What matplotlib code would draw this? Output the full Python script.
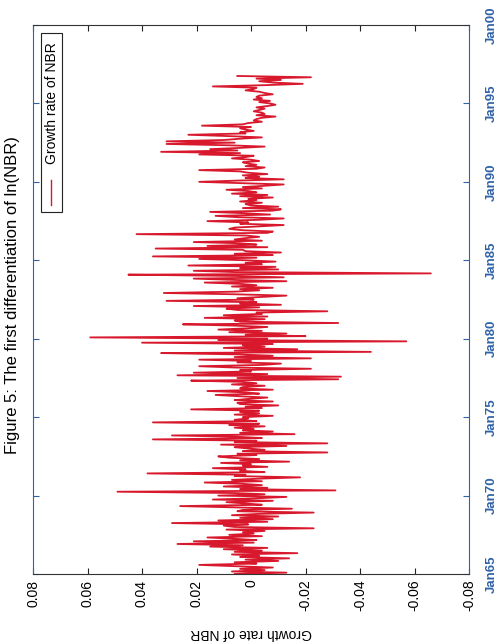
import matplotlib
matplotlib.use("Agg")
import matplotlib.pyplot as plt
import matplotlib.dates as mdates
from matplotlib.patches import Rectangle
from matplotlib.lines import Line2D
import numpy as np
import pandas as pd

plt.rcParams['font.family'] = ['Liberation Sans', 'DejaVu Sans']

# monthly growth rate of NBR, Jan 1965 .. Oct 1996
g1965 = [0.006, -0.013, 0.007, -0.005, 0.004, -0.008, 0.005, 0.019, -0.002, 0.006, -0.010, 0.002]
g1966 = [-0.014, 0.004, -0.003, 0.007, -0.017, 0.006, -0.004, 0.010, -0.006, 0.015, 0.003, 0.027]
g1967 = [-0.001, 0.021, -0.002, 0.006, 0.016, -0.004, 0.008, -0.001, 0.003, -0.005, 0.009, -0.023]
g1968 = [0.006, 0.010, 0.001, 0.029, -0.006, 0.012, -0.008, 0.004, -0.010, 0.007, -0.003, -0.023]
g1969 = [0.005, 0.003, -0.015, 0.005, 0.026, -0.004, 0.002, 0.009, -0.008, 0.014, -0.003, -0.013]
g1970 = [0.012, -0.005, 0.006, 0.049, -0.031, 0.004, -0.006, 0.010, -0.004, 0.003, 0.017, -0.004]
g1971 = [0.007, -0.004, -0.018, 0.006, 0.002, 0.038, -0.005, 0.004, 0.002, 0.014, -0.006, 0.003]
g1972 = [0.000, 0.011, -0.014, 0.004, -0.003, 0.008, 0.012, -0.002, 0.005, -0.028, 0.003, -0.005]
g1973 = [0.001, 0.006, -0.013, 0.011, -0.028, 0.006, -0.002, 0.036, -0.004, 0.005, 0.029, -0.016]
g1974 = [0.004, -0.008, 0.003, -0.001, 0.006, -0.005, 0.008, -0.003, 0.036, -0.002, 0.006, 0.001]
g1975 = [0.003, -0.008, 0.006, -0.003, 0.004, -0.003, 0.022, -0.004, 0.002, -0.010, 0.004, 0.005]
g1976 = [-0.008, 0.006, 0.001, -0.006, 0.004, 0.013, -0.003, 0.002, 0.016, -0.008, 0.004, 0.003]
g1977 = [-0.005, 0.007, -0.002, 0.003, 0.022, -0.032, 0.005, -0.033, 0.027, -0.006, 0.021, 0.000]
g1978 = [0.004, -0.022, 0.006, 0.019, -0.004, -0.011, 0.005, 0.000, 0.019, -0.022, 0.006, -0.008]
g1979 = [0.005, 0.033, -0.044, 0.006, -0.017, 0.010, -0.005, 0.003, -0.008, 0.040, -0.057, 0.012]
g1980 = [-0.006, 0.059, -0.020, 0.002, -0.013, 0.008, -0.004, 0.012, 0.001, -0.006, 0.006, 0.025]
g1981 = [-0.032, 0.004, 0.006, -0.005, 0.017, -0.006, 0.010, -0.004, -0.002, -0.028, 0.005, 0.009]
g1982 = [-0.003, 0.021, -0.011, 0.004, -0.002, 0.031, -0.001, 0.005, -0.004, -0.013, 0.006, 0.032]
g1983 = [0.006, -0.003, 0.004, -0.008, 0.007, -0.002, 0.004, 0.017, -0.013, 0.006, 0.021, -0.012]
g1984 = [0.005, 0.045, -0.066, 0.006, 0.021, -0.010, 0.004, -0.009, 0.023, -0.004, 0.002, -0.009]
g1985 = [0.002, 0.019, -0.002, 0.036, -0.008, 0.006, -0.011, 0.002, 0.003, 0.035, -0.006, 0.016]
g1986 = [-0.002, 0.004, 0.021, -0.004, 0.006, 0.002, -0.003, 0.002, 0.042, -0.006, -0.008, 0.003]
g1987 = [0.008, 0.006, -0.003, -0.012, 0.004, 0.001, 0.016, -0.003, -0.012, 0.005, 0.013, -0.007]
g1988 = [0.002, 0.015, -0.008, -0.011, 0.003, -0.010, 0.000, 0.002, -0.004, 0.004, -0.002, 0.001]
g1989 = [-0.008, 0.004, -0.006, 0.007, -0.002, 0.001, 0.009, -0.004, 0.003, -0.005, -0.012, 0.003]
g1990 = [0.019, 0.004, -0.012, 0.002, -0.003, 0.003, -0.006, 0.001, 0.004, 0.019, -0.002, -0.005]
g1991 = [0.002, -0.002, 0.001, 0.003, -0.003, 0.000, 0.007, 0.002, -0.001, 0.019, 0.004, 0.033]
g1992 = [0.005, 0.015, 0.004, -0.005, 0.008, 0.031, 0.006, 0.031, 0.010, 0.004, -0.004, 0.008]
g1993 = [0.023, 0.002, 0.004, -0.001, 0.002, 0.004, 0.000, 0.018, 0.003, 0.001, -0.004, -0.001]
g1994 = [-0.002, -0.004, -0.009, -0.002, -0.005, -0.004, -0.001, -0.003, -0.005, -0.002, -0.006, -0.009]
g1995 = [-0.007, -0.003, -0.007, -0.001, -0.004, -0.002, -0.003, -0.008, -0.005, -0.003, 0.002, -0.001]
g1996 = [-0.002, 0.014, -0.005, -0.019, -0.008, -0.003, -0.011, -0.002, -0.022, 0.005]

growth = (g1965 + g1966 + g1967 + g1968 + g1969 + g1970 + g1971 + g1972 + g1973 + g1974
          + g1975 + g1976 + g1977 + g1978 + g1979 + g1980 + g1981 + g1982 + g1983 + g1984
          + g1985 + g1986 + g1987 + g1988 + g1989 + g1990 + g1991 + g1992 + g1993 + g1994
          + g1995 + g1996)
dates = pd.date_range('1965-01-01', periods=len(growth), freq='MS')

rate_ticks = [0.08, 0.06, 0.04, 0.02, 0, -0.02, -0.04, -0.06, -0.08]
rate_labels = ['0.08', '0.06', '0.04', '0.02', '0', '-0.02', '-0.04', '-0.06', '-0.08']
year_ticks = [1965, 1970, 1975, 1980, 1985, 1990, 1995, 2000]

blue = '#2f62a8'
red = '#d8182c'

W, H = 497, 644
fig = plt.figure(figsize=(W / 100, H / 100), dpi=100)
ax = fig.add_axes([33 / W, 1 - 574 / H, 436 / W, 549 / H])

# the page is turned: time runs up the right side, rate along the bottom
ax.plot(growth, dates, color=red, lw=1.3)
ax.set_xlim(0.08, -0.08)
ax.set_ylim(pd.Timestamp('1965-01-01'), pd.Timestamp('2000-01-01'))

ax.set_xticks(rate_ticks)
ax.set_xticklabels(rate_labels)
ax.tick_params(axis='x', bottom=True, top=True, direction='in', length=4,
               labelrotation=90, labelsize=10, color='#222222', pad=4)

ax.set_yticks([pd.Timestamp(f'{y}-01-01') for y in year_ticks])
ax.yaxis.set_major_formatter(mdates.DateFormatter('%b%y'))
ax.tick_params(axis='y', left=True, right=True, labelleft=False, labelright=True,
               direction='in', length=4, color=blue, labelcolor=blue,
               labelrotation=90, labelsize=9.5, pad=12)
for lab in ax.get_yticklabels():
    lab.set_fontweight('bold')
    lab.set_verticalalignment('center')

ax.spines['left'].set_color(blue)
ax.spines['right'].set_color(blue)
ax.spines['top'].set_color('#333333')
ax.spines['bottom'].set_color('#333333')
for s in ax.spines.values():
    s.set_linewidth(0.8)

fig.text(251 / W, 1 - 633 / H, 'Growth rate of NBR', rotation=180,
         ha='center', va='center', fontsize=10)
fig.text(13 / W, 1 - 295 / H, 'Figure 5: The first differentiation of ln(NBR)',
         rotation=90, ha='center', va='center', fontsize=12)

# legend drawn by hand, turned with the page
fig.patches.append(Rectangle((41 / W, 1 - 212 / H), 21 / W, 179 / H,
                             transform=fig.transFigure, fill=True, fc='white',
                             ec='#222222', lw=0.8))
fig.lines.append(Line2D([51 / W, 51 / W], [1 - 205 / H, 1 - 180 / H],
                        transform=fig.transFigure, color=red, lw=1.0))
fig.text(52 / W, 1 - 103 / H, 'Growth rate of NBR', rotation=90,
         ha='center', va='center', fontsize=10)

fig.savefig('out.png', dpi=100)
